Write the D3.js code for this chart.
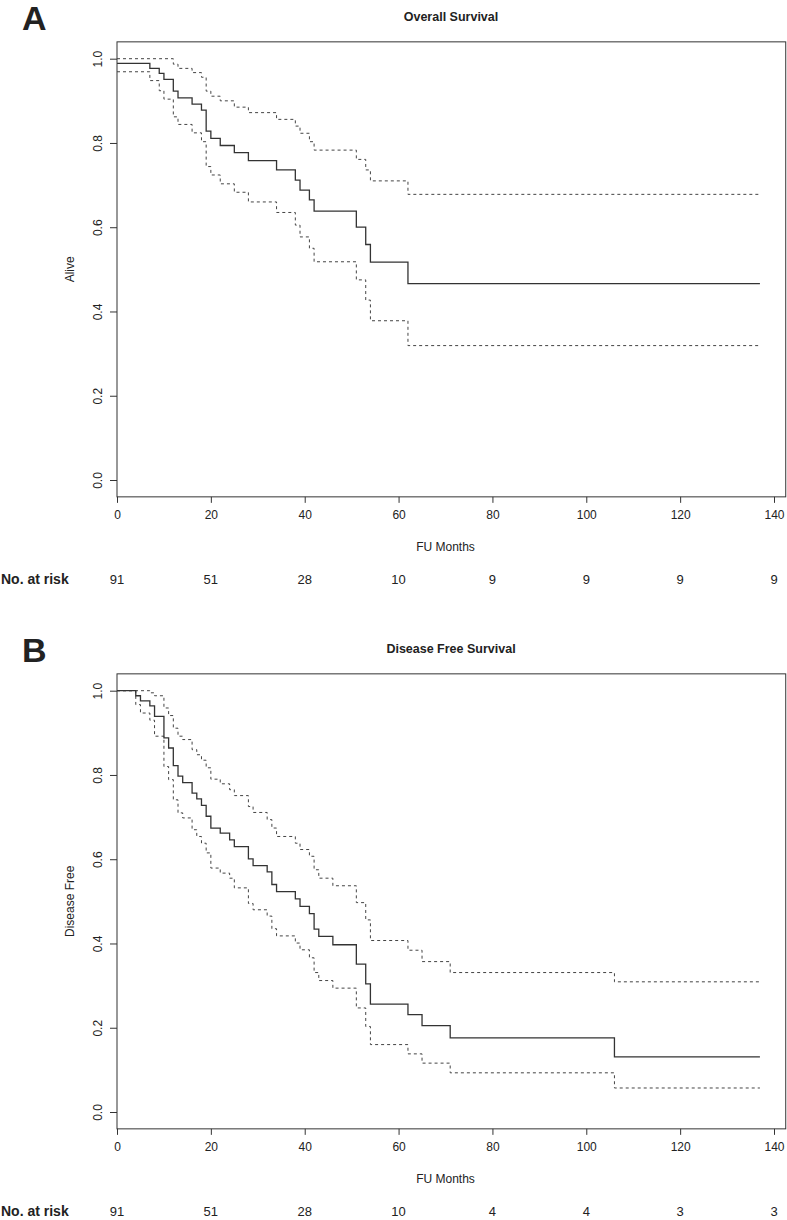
<!DOCTYPE html>
<html>
<head>
<meta charset="utf-8">
<script src="https://cdn.jsdelivr.net/npm/d3@7"></script>
<style>
  body { margin: 0; background: #fff; }
  svg text { font-family: "Liberation Sans Narrow", "Liberation Sans", Arial, sans-serif; fill: #222; }
</style>
</head>
<body>
<svg id="canvas" width="787" height="1220"></svg>
<script>
// ---- data ----
const xTicks = [0, 20, 40, 60, 80, 100, 120, 140]
const yTicks = [0, 0.2, 0.4, 0.6, 0.8, 1.0]
const lastTime = 137

// A: overall survival
const osTime  = [0, 7, 9, 10, 12, 13, 16, 18, 19, 20, 22, 25, 28, 34, 38, 39, 41, 42, 51, 53, 54, 62]
const osSurv  = [0.989, 0.977, 0.965, 0.951, 0.923, 0.907, 0.892, 0.878, 0.828, 0.811, 0.794, 0.777, 0.758, 0.736, 0.712, 0.688, 0.665, 0.638, 0.600, 0.559, 0.517, 0.466]
const osUpper = [1.0, 1.0, 1.0, 1.0, 0.987, 0.977, 0.967, 0.956, 0.923, 0.911, 0.900, 0.885, 0.872, 0.856, 0.840, 0.823, 0.803, 0.783, 0.761, 0.736, 0.710, 0.678]
const osLower = [0.969, 0.948, 0.924, 0.904, 0.862, 0.844, 0.824, 0.803, 0.744, 0.724, 0.703, 0.683, 0.660, 0.635, 0.605, 0.577, 0.550, 0.518, 0.475, 0.427, 0.378, 0.319]
const osRisk  = [91, 51, 28, 10, 9, 9, 9, 9]

// B: disease free survival
const dfsTime  = [0, 4, 5, 7, 8, 10, 11, 12, 13, 14, 16, 17, 18, 19, 20, 22, 24, 25, 28, 29, 32, 33, 34, 38, 39, 41, 42, 43, 46, 51, 53, 54, 62, 65, 71, 106]
const dfsSurv  = [1.0, 0.988, 0.976, 0.964, 0.939, 0.888, 0.864, 0.822, 0.797, 0.782, 0.757, 0.743, 0.728, 0.702, 0.674, 0.662, 0.646, 0.630, 0.601, 0.585, 0.570, 0.540, 0.523, 0.506, 0.488, 0.471, 0.434, 0.417, 0.397, 0.351, 0.304, 0.256, 0.231, 0.205, 0.176, 0.131]
const dfsUpper = [1.0, 1.0, 1.0, 0.995, 0.988, 0.959, 0.941, 0.911, 0.892, 0.884, 0.860, 0.848, 0.835, 0.817, 0.790, 0.779, 0.765, 0.751, 0.725, 0.711, 0.694, 0.674, 0.654, 0.638, 0.623, 0.607, 0.575, 0.555, 0.537, 0.497, 0.456, 0.407, 0.384, 0.357, 0.331, 0.309]
const dfsLower = [1.0, 0.967, 0.947, 0.930, 0.892, 0.820, 0.789, 0.741, 0.710, 0.698, 0.670, 0.654, 0.638, 0.615, 0.579, 0.567, 0.555, 0.532, 0.495, 0.480, 0.465, 0.435, 0.418, 0.401, 0.385, 0.366, 0.331, 0.312, 0.294, 0.247, 0.203, 0.160, 0.138, 0.116, 0.093, 0.057]
const dfsRisk  = [91, 51, 28, 10, 4, 4, 3, 3]

// ---- layout ----
var plot = { left: 117, right: 774, top: 58.7, bottom: 480 }   // x(0)..x(140), y(1)..y(0)
const panelShift = 632
const lineColor = '#333'
const narrow = '"Liberation Sans Narrow", "Liberation Sans", Arial, sans-serif'
const wide = '"Liberation Sans", Arial, sans-serif'

var svg = d3.select("#canvas")

function drawPanel(g, opts) {
    var x = d3.scaleLinear()
        .domain([0, 140])
        .range([plot.left, plot.right]);
    var y = d3.scaleLinear()
        .domain([0, 1])
        .range([plot.bottom, plot.top]);

    // box
    g.append("rect")
        .attr("x", x(0))
        .attr("y", y(1.04))
        .attr("width", x(142.5) - x(0))
        .attr("height", y(-0.04) - y(1.04))
        .attr("fill", "none")
        .attr("stroke", lineColor)
        .attr("stroke-width", 1);

    // x axis
    var xAxis = g.append("g")
        .attr("transform", "translate(0," + y(-0.04) + ")")
        .call(d3.axisBottom(x).tickValues(xTicks).tickSize(6).tickPadding(8).tickFormat(d3.format("d")));
    xAxis.select(".domain").remove();
    xAxis.selectAll("line").attr("stroke", lineColor);
    xAxis.selectAll("text").attr("font-size", 12).attr("fill", "#222")
        .style("font-family", narrow);

    // y axis, labels turned like R's las=0
    var yAxis = g.append("g")
        .attr("transform", "translate(" + x(0) + ",0)")
        .call(d3.axisLeft(y).tickValues(yTicks).tickSize(7).tickFormat(d3.format(".1f")));
    yAxis.select(".domain").remove();
    yAxis.selectAll("line").attr("stroke", lineColor);
    yAxis.selectAll("text")
        .attr("x", null).attr("dy", null)
        .attr("font-size", 12).attr("fill", "#222")
        .style("font-family", narrow)
        .attr("text-anchor", "middle")
        .attr("transform", "translate(-19,0) rotate(-90)")
        .attr("dy", "0.35em");

    // curves
    function stepData(times, vals) {
        var pts = times.map((t, i) => [t, vals[i]]);
        pts.push([lastTime, vals[vals.length - 1]]);
        return pts;
    }
    var line = d3.line()
        .x(d => x(d[0]))
        .y(d => y(d[1]))
        .curve(d3.curveStepAfter);

    [opts.upper, opts.lower].forEach(function (band) {
        g.append("path")
            .datum(stepData(opts.time, band))
            .attr("d", line)
            .attr("fill", "none")
            .attr("stroke", "#444")
            .attr("stroke-width", 1)
            .attr("stroke-dasharray", "3,3");
    });
    g.append("path")
        .datum(stepData(opts.time, opts.surv))
        .attr("d", line)
        .attr("fill", "none")
        .attr("stroke", lineColor)
        .attr("stroke-width", 1.3);

    // titles
    g.append("text")
        .attr("x", 451).attr("y", 21)
        .attr("text-anchor", "middle")
        .attr("font-size", 12.5).attr("font-weight", "bold")
        .style("font-family", wide)
        .text(opts.title);
    g.append("text")
        .attr("x", 22).attr("y", 30)
        .attr("font-size", 34).attr("font-weight", "bold")
        .style("font-family", wide)
        .attr("fill", "#000")
        .text(opts.letter);
    g.append("text")
        .attr("transform", "translate(74," + y(0.5) + ") rotate(-90)")
        .attr("text-anchor", "middle")
        .attr("font-size", 12)
        .text(opts.yLabel);
    g.append("text")
        .attr("x", x(70)).attr("y", 551)
        .attr("text-anchor", "middle")
        .attr("font-size", 12)
        .text("FU Months");

    // number at risk
    g.append("text")
        .attr("x", 1).attr("y", 584)
        .attr("font-size", 14).attr("font-weight", "bold")
        .attr("fill", "#000")
        .text("No. at risk");
    g.selectAll(".risk")
        .data(opts.risk)
        .enter()
        .append("text")
        .attr("class", "risk")
        .attr("x", (d, i) => x(xTicks[i]))
        .attr("y", 584)
        .attr("text-anchor", "middle")
        .attr("font-size", 13)
        .text(d => d);
}

drawPanel(svg.append("g"), {
    letter: "A", title: "Overall Survival", yLabel: "Alive",
    time: osTime, surv: osSurv, upper: osUpper, lower: osLower, risk: osRisk
});
drawPanel(svg.append("g").attr("transform", "translate(0," + panelShift + ")"), {
    letter: "B", title: "Disease Free Survival", yLabel: "Disease Free",
    time: dfsTime, surv: dfsSurv, upper: dfsUpper, lower: dfsLower, risk: dfsRisk
});
</script>
</body>
</html>
